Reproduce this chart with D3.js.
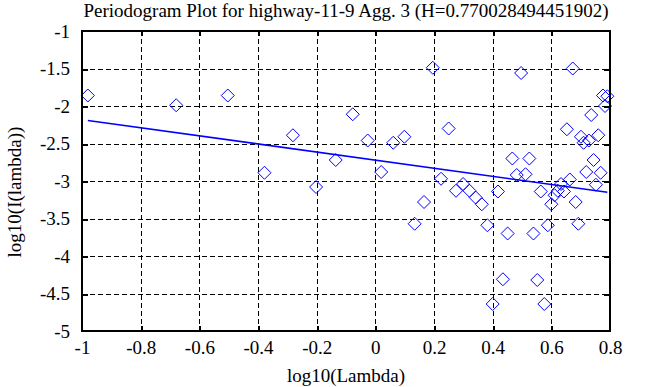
<!DOCTYPE html>
<html>
<head>
<meta charset="utf-8">
<script src="https://cdn.jsdelivr.net/npm/d3@7"></script>
<style>
  html, body { margin: 0; padding: 0; background: #fff; }
  svg { display: block; }
  text { font-family: "Liberation Serif", "DejaVu Serif", serif; fill: #000; }
</style>
</head>
<body>
<svg id="chart" width="663" height="387"></svg>
<script>
const titleText = "Periodogram Plot for highway-11-9 Agg. 3 (H=0.770028494451902)";
const xLabel = "log10(Lambda)";
const yLabel = "log10(I(lambda))";

const logLambda = [
  -0.980, -0.679, -0.503, -0.378, -0.281, -0.202, -0.135, -0.077, -0.026, 0.020,
   0.061,  0.099,  0.134,  0.166,  0.196,  0.224,  0.250,  0.275,  0.299, 0.321,
   0.342,  0.363,  0.382,  0.400,  0.418,  0.435,  0.451,  0.467,  0.482, 0.497,
   0.512,  0.525,  0.539,  0.552,  0.564,  0.576,  0.588,  0.600,  0.611, 0.622,
   0.633,  0.643,  0.653,  0.663,  0.673,  0.683,  0.692,  0.701,  0.710, 0.719,
   0.728,  0.736,  0.744,  0.752,  0.760,  0.768,  0.776,  0.783,  0.791
];
const logI = [
  -1.86, -1.99, -1.86, -2.89, -2.39, -3.08, -2.72, -2.11, -2.46, -2.88,
  -2.49, -2.41, -3.57, -3.28, -1.49, -2.97, -2.30, -3.13, -3.04, -3.13,
  -3.22, -3.31, -3.59, -4.64, -3.14, -4.31, -3.70, -2.70, -2.92, -1.56,
  -2.91, -2.70, -3.70, -4.32, -3.14, -4.64, -3.59, -3.31, -3.19, -3.13,
  -3.04, -3.14, -2.31, -2.98, -1.50, -3.28, -3.57, -2.41, -2.49, -2.88,
  -2.46, -2.12, -2.72, -3.05, -2.39, -2.89, -1.86, -2.00, -1.87
];
const fitX = [-0.980, 0.791];
const fitY = [-2.193, -3.149];

const xTicks = [-1, -0.8, -0.6, -0.4, -0.2, 0, 0.2, 0.4, 0.6, 0.8];
const yTicks = [-1, -1.5, -2, -2.5, -3, -3.5, -4, -4.5, -5];

const svg = d3.select("#chart");
const L = 82, R = 610, T = 31, B = 331;
const x = d3.scaleLinear().domain([-1, 0.8]).range([L, R]);
const y = d3.scaleLinear().domain([-5, -1]).range([B, T]);
const fs = 19;
const serif = '"Liberation Serif", "Times New Roman", serif';

// grid
const grid = svg.append("g").attr("stroke", "#000").attr("stroke-width", 1)
  .attr("stroke-dasharray", "5,3").attr("shape-rendering", "crispEdges");
xTicks.slice(1, -1).forEach(v => {
  grid.append("line").attr("x1", Math.round(x(v)) + 0.5).attr("x2", Math.round(x(v)) + 0.5)
    .attr("y1", T).attr("y2", B);
});
yTicks.slice(1, -1).forEach(v => {
  grid.append("line").attr("y1", Math.round(y(v)) + 0.5).attr("y2", Math.round(y(v)) + 0.5)
    .attr("x1", L).attr("x2", R);
});

const fmt = d => String(d).replace("\u2212", "-");

// axes using d3 axis generators for labels
const xAxis = d3.axisBottom(x).tickValues(xTicks).tickSize(0).tickPadding(10).tickFormat(fmt);
const gx = svg.append("g").attr("transform", `translate(0,${B})`).call(xAxis)
  .attr("font-family", null).attr("font-size", null);
gx.select(".domain").remove();
gx.selectAll("text").style("font-family", serif).style("font-size", fs + "px").attr("fill", "#000");

const yAxis = d3.axisLeft(y).tickValues(yTicks).tickSize(0).tickPadding(12).tickFormat(fmt);
const gy = svg.append("g").attr("transform", `translate(${L},0)`).call(yAxis)
  .attr("font-family", null).attr("font-size", null);
gy.select(".domain").remove();
gy.selectAll("text").style("font-family", serif).style("font-size", fs + "px").attr("fill", "#000");

// inner tick marks on all sides
const tk = svg.append("g").attr("stroke", "#000").attr("stroke-width", 2).attr("shape-rendering", "crispEdges");
xTicks.slice(1, -1).forEach(v => {
  const px = Math.round(x(v)) + 0.5;
  tk.append("line").attr("x1", px).attr("x2", px).attr("y1", B).attr("y2", B - 5);
  tk.append("line").attr("x1", px).attr("x2", px).attr("y1", T).attr("y2", T + 5);
});
yTicks.slice(1, -1).forEach(v => {
  const py = Math.round(y(v)) + 0.5;
  tk.append("line").attr("y1", py).attr("y2", py).attr("x1", L).attr("x2", L + 6);
  tk.append("line").attr("y1", py).attr("y2", py).attr("x1", R).attr("x2", R - 6);
});

// points
const r = 6.5;
svg.append("g").selectAll("path").data(logLambda.map((d, i) => [d, logI[i]])).join("path")
  .attr("d", d => {
    const cx = x(d[0]), cy = y(d[1]);
    return `M${cx},${cy - r}L${cx + r},${cy}L${cx},${cy + r}L${cx - r},${cy}Z`;
  })
  .attr("fill", "none").attr("stroke", "#0000ff").attr("stroke-width", 1);

// fit line
svg.append("path")
  .datum(fitX.map((d, i) => [d, fitY[i]]))
  .attr("d", d3.line().x(d => x(d[0])).y(d => y(d[1])))
  .attr("fill", "none").attr("stroke", "#0000ff").attr("stroke-width", 1.6);

// frame
svg.append("rect").attr("x", L).attr("y", T).attr("width", R - L).attr("height", B - T)
  .attr("fill", "none").attr("stroke", "#000").attr("stroke-width", 2);

// labels
svg.append("text").attr("x", 346).attr("y", 17).attr("text-anchor", "middle")
  .style("font-family", serif).style("font-size", fs + "px").text(titleText);
svg.append("text").attr("x", 346).attr("y", 382).attr("text-anchor", "middle")
  .style("font-family", serif).style("font-size", fs + "px").text(xLabel);
svg.append("text").attr("transform", "translate(21,192) rotate(-90)").attr("text-anchor", "middle")
  .style("font-family", serif).style("font-size", fs + "px").text(yLabel);
</script>
</body>
</html>
